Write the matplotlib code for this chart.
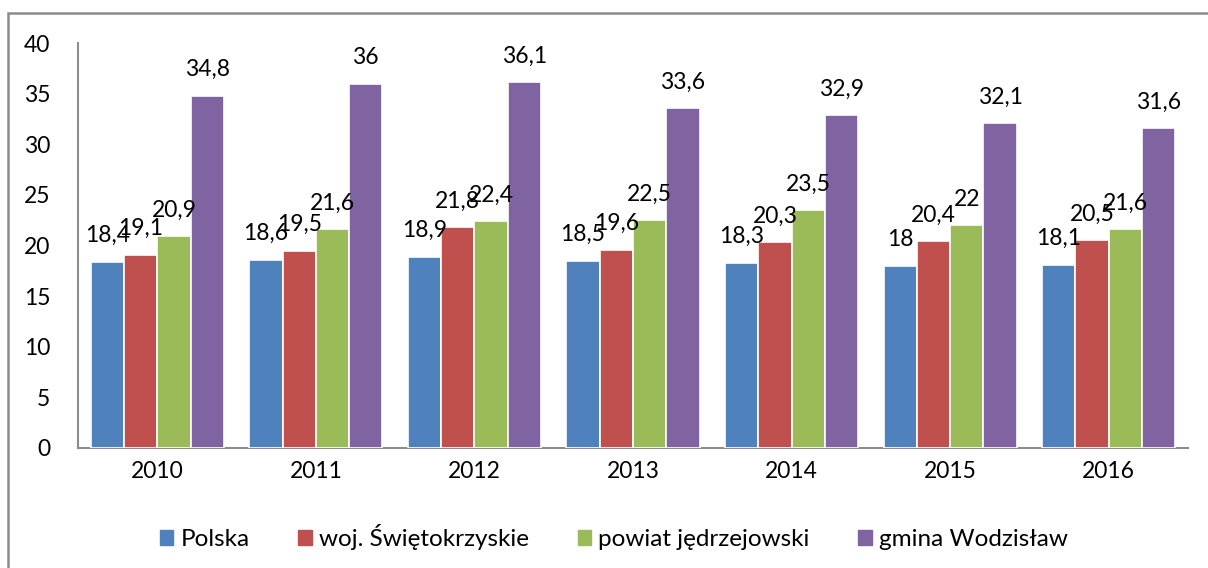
import matplotlib.pyplot as plt
import numpy as np
from matplotlib.patches import Rectangle

years = ["2010", "2011", "2012", "2013", "2014", "2015", "2016"]
polska = [18.4, 18.6, 18.9, 18.5, 18.3, 18.0, 18.1]
wojewodztwo = [19.1, 19.5, 21.8, 19.6, 20.3, 20.4, 20.5]
powiat = [20.9, 21.6, 22.4, 22.5, 23.5, 22.0, 21.6]
gmina = [34.8, 36.0, 36.1, 33.6, 32.9, 32.1, 31.6]

series_names = ["Polska", "woj. Świętokrzyskie", "powiat jędrzejowski", "gmina Wodzisław"]
colors = ["#4F81BD", "#C0504D", "#9BBB59", "#8064A2"]

plt.rcParams["font.family"] = ["Lato", "DejaVu Sans"]

fig = plt.figure(figsize=(12.08, 5.68), dpi=100)
ax = fig.add_axes([78 / 1208, 1 - 448 / 568, 1110 / 1208, 405 / 568])

# outer chart frame (clipped at right and bottom like the source)
fig.patches.append(Rectangle((8 / 1208, -0.05), 1.1, 1 - 13 / 568 + 0.05,
                             transform=fig.transFigure, fill=False,
                             edgecolor="#8c8c8c", linewidth=1.8))

x = np.arange(len(years))
width = 0.21
offsets = np.array([-1.5, -0.5, 0.5, 1.5]) * width

def fmt(v):
    s = f"{v:g}"
    return s.replace(".", ",")

for vals, name, col, off in zip([polska, wojewodztwo, powiat, gmina], series_names, colors, offsets):
    bars = ax.bar(x + off, vals, width, color=col, edgecolor="white", linewidth=1.2, label=name, zorder=3)
    for b, v in zip(bars, vals):
        ax.annotate(fmt(v), (b.get_x() + b.get_width() / 2, v), xytext=(0, 14),
                    textcoords="offset points", ha="center", va="baseline",
                    fontsize=16.5, color="black", zorder=5)

ax.set_xlim(-0.5, len(years) - 0.5)
ax.set_ylim(0, 40)
ax.set_yticks(range(0, 41, 5))
ax.set_xticks(x)
ax.set_xticklabels(years)
ax.tick_params(axis="both", length=0, labelsize=16.5)
ax.tick_params(axis="y", pad=20)
ax.tick_params(axis="x", pad=9)
for side in ["top", "right"]:
    ax.spines[side].set_visible(False)
for side in ["left", "bottom"]:
    ax.spines[side].set_color("#8c8c8c")
    ax.spines[side].set_linewidth(1.5)

handles = [Rectangle((0, 0), 1, 1, color=c) for c in colors]
fig.legend(handles, series_names, loc="center", bbox_to_anchor=(614 / 1208, 1 - 537 / 568),
           ncol=4, frameon=False, fontsize=17.5, handlelength=0.55, handleheight=0.55,
           handletextpad=0.3, columnspacing=2.0)

fig.savefig("out.png", dpi=100)
